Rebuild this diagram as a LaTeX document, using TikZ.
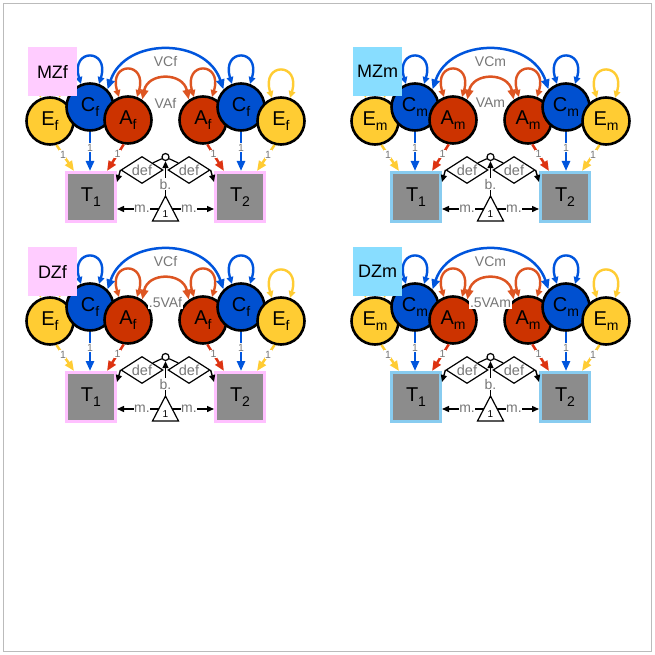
\documentclass[tikz,border=0pt]{standalone}
\usepackage{fontspec}
\setmainfont{Liberation Sans}
\usetikzlibrary{arrows.meta,calc,shapes.geometric}
\definecolor{Ecol}{HTML}{FFCC33}
\definecolor{Ccol}{HTML}{0050D0}
\definecolor{Acol}{HTML}{CC3300}
\definecolor{Earr}{HTML}{FFCC33}
\definecolor{Carr}{HTML}{0055DD}
\definecolor{Aarr}{HTML}{DD3311}
\definecolor{Aloop}{HTML}{DD5522}
\definecolor{Tgray}{HTML}{8C8C8C}
\definecolor{labgray}{HTML}{777777}
\definecolor{fpink}{HTML}{FFCCFF}
\definecolor{fborder}{HTML}{FFC0FF}
\definecolor{mblue}{HTML}{88DDFF}
\definecolor{mborder}{HTML}{88CCF0}
\definecolor{framegray}{HTML}{BBBBBB}
\newcommand\subtxt[1]{\raisebox{-5.5pt}{\fontsize{14}{14}\selectfont #1}}
\newcommand\varloop[2]{\draw[loopstyle,#2] ($(#1.center)+(-9,-23)$) .. controls ($(#1.center)+(-20,-59)$) and ($(#1.center)+(20,-59)$) .. ($(#1.center)+(9,-23)$);}
\tikzset{
 latent/.style={circle, draw=black, line width=2.6pt, minimum size=47pt, inner sep=0pt, font=\fontsize{20}{22}\selectfont},
 manifest/.style={rectangle, fill=Tgray, line width=3pt, minimum size=49pt, inner sep=0pt, font=\fontsize{20}{22}\selectfont},
 grouplab/.style={rectangle, minimum size=49pt, inner sep=0pt, font=\fontsize{18}{20}\selectfont},
 pathlab/.style={fill=white, inner sep=0.6pt, text=labgray, font=\fontsize{10.5}{10.5}\selectfont},
 arclab/.style={fill=white, inner sep=0.8pt, text=labgray, font=\fontsize{14}{14}\selectfont},
 smalllab/.style={fill=white, inner sep=0.5pt, text=labgray, font=\fontsize{14}{14}\selectfont},
 defnode/.style={diamond, draw=black, fill=white, line width=1.2pt, aspect=1.6, inner sep=0pt, minimum width=42pt, minimum height=27pt, text=labgray, font=\fontsize{14.5}{14.5}\selectfont},
 dotnode/.style={circle, draw=black, fill=white, line width=1.2pt, minimum size=7pt, inner sep=0pt},
 colarrow/.style={line width=2.5pt, -{Triangle[length=10pt,width=8pt]}},
 loopstyle/.style={line width=2.4pt, {Triangle[length=7pt,width=6.5pt]}-{Triangle[length=7pt,width=6.5pt]}},
 covstyle/.style={line width=2.5pt, {Triangle[length=10pt,width=8pt]}-{Triangle[length=10pt,width=8pt]}},
 blkarrow/.style={line width=1.4pt, -{Triangle[length=7pt,width=6pt]}},
}
% #1 prefix, #2 dx, #3 dy, #4 group label, #5 subscript, #6 label fill, #7 T border, #8 VA prefix
\newcommand\twinpanel[8]{%
\begin{scope}[shift={(#2,#3)}]
 \node[latent, fill=Ecol] (#1E1) at (50,121) {E\subtxt{#5}};
 \node[latent, fill=Ccol] (#1C1) at (90,107) {C\subtxt{#5}};
 \node[latent, fill=Acol] (#1A1) at (128,120) {A\subtxt{#5}};
 \node[latent, fill=Acol] (#1A2) at (203,120) {A\subtxt{#5}};
 \node[latent, fill=Ccol] (#1C2) at (241,107) {C\subtxt{#5}};
 \node[latent, fill=Ecol] (#1E2) at (281,121) {E\subtxt{#5}};
 \varloop{#1E1}{Earr}
 \varloop{#1C1}{Carr}
 \varloop{#1A1}{Aloop}
 \varloop{#1A2}{Aloop}
 \varloop{#1C2}{Carr}
 \varloop{#1E2}{Earr}
 \node[manifest, draw=#7] (#1T1) at (91,197) {T\subtxt{1}};
 \node[manifest, draw=#7] (#1T2) at (240,197) {T\subtxt{2}};
 \draw[colarrow, Earr] (#1E1.-75) -- node[pathlab, pos=.37]{1} ($(#1T1.north)+(-17,0)$);
 \draw[colarrow, Carr] (#1C1.south) -- node[pathlab, pos=.4]{1} ($(#1T1.north)+(-1,0)$);
 \draw[colarrow, Aarr] (#1A1.-100) -- node[pathlab, pos=.37]{1} ($(#1T1.north)+(16,0)$);
 \draw[colarrow, Aarr] (#1A2.-80) -- node[pathlab, pos=.37]{1} ($(#1T2.north)+(-16,0)$);
 \draw[colarrow, Carr] (#1C2.south) -- node[pathlab, pos=.4]{1} ($(#1T2.north)+(1,0)$);
 \draw[colarrow, Earr] (#1E2.-105) -- node[pathlab, pos=.37]{1} ($(#1T2.north)+(17,0)$);
 \draw[covstyle, Carr] (#1C1.45) .. controls (125,37) and (206,37) .. (#1C2.135);
 \node[arclab] (#1VC) at (165.5,62) {VC#5};
 \draw[covstyle, Aloop] (#1A1.55) .. controls (148,72) and (183,72) .. (#1A2.125);
 \node[arclab] (#1VA) at (165.5,103) {#8#5};
 \coordinate (#1triA) at (165.5,196);
 \coordinate (#1triL) at (152.5,221);
 \coordinate (#1triR) at (178.5,221);
 \coordinate (#1mL) at (158.7,209);
 \coordinate (#1mR) at (172.3,209);
 \draw[blkarrow] (#1mL) -- node[smalllab, pos=.4]{m.} ($(#1T1.east)+(0,12)$);
 \draw[blkarrow] (#1mR) -- node[smalllab, pos=.4]{m.} ($(#1T2.west)+(0,12)$);
 \draw[line width=1.2pt, fill=white] (#1triA) -- (#1triL) -- (#1triR) -- cycle;
 \node[font=\fontsize{10}{10}\selectfont, inner sep=0pt] (#1one) at (165.5,214) {1};
 \node[dotnode] (#1dot) at (165.5,157) {};
 \node[defnode] (#1D1) at (142,170) {def};
 \node[defnode] (#1D2) at (189,170) {def};
 \draw[line width=1.2pt] (#1dot) -- (#1D1.north east);
 \draw[line width=1.2pt] (#1dot) -- (#1D2.north west);
 \draw[blkarrow] (#1triA) -- node[smalllab, pos=.34]{b.} (#1dot);
 \draw[blkarrow] (#1D1.west) -- ($(#1T1.north east)+(0,11)$);
 \draw[blkarrow] (#1D2.east) -- ($(#1T2.north west)+(0,11)$);
 \node[grouplab, fill=#6] (#1lab) at (52.5,71.5) {#4};
\end{scope}}
\begin{document}
\begin{tikzpicture}[x=1pt, y=-1pt]
\useasboundingbox (0,0) rectangle (655,655);
\draw[framegray, line width=1pt] (3.5,3.5) rectangle (651.5,651.5);
\twinpanel{pa}{0}{0}{MZf}{f}{fpink}{fborder}{VA}
\twinpanel{pb}{325}{0}{MZm}{m}{mblue}{mborder}{VA}
\twinpanel{pc}{0}{200}{DZf}{f}{fpink}{fborder}{.5VA}
\twinpanel{pd}{325}{200}{DZm}{m}{mblue}{mborder}{.5VA}
\end{tikzpicture}
\end{document}
